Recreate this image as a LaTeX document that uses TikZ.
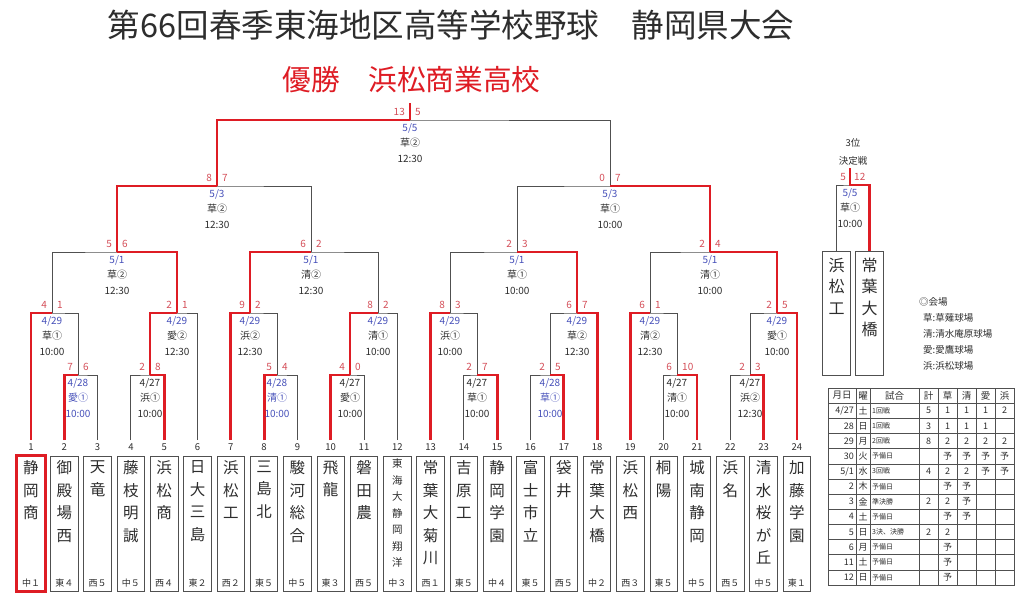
\documentclass[tikz,border=0pt]{standalone}
\usepackage{fontspec}
\setmainfont{Noto Sans CJK JP}
\usetikzlibrary{positioning,calc}
\definecolor{winred}{RGB}{222,28,36}
\definecolor{scorered}{RGB}{212,78,88}
\definecolor{dateblue}{RGB}{70,80,185}
\definecolor{linegrey}{RGB}{80,80,80}
\definecolor{textgrey}{RGB}{45,45,45}

\tikzset{
  lose/.style={draw=linegrey, line width=0.9pt},
  win/.style={draw=winred, line width=2.8pt},
  score/.style={text=scorered, font=\fontsize{10}{12}\selectfont, inner sep=0pt},
  info/.style={text=textgrey, font=\fontsize{10}{15.5}\selectfont, align=center, inner sep=0pt, anchor=north},
  teambox/.style={draw=linegrey, line width=0.9pt, minimum width=27.5pt, minimum height=135pt, inner sep=0pt},
  teamname/.style={text=textgrey, font=\fontsize{15.5}{22.5}\selectfont, align=center, inner sep=0pt, anchor=north},
  teamno/.style={text=textgrey, font=\fontsize{9.5}{11}\selectfont, inner sep=0pt},
  area/.style={text=textgrey, font=\fontsize{9}{11}\selectfont, inner sep=0pt, anchor=south},
  cell/.style={text=textgrey, font=\fontsize{9}{10}\selectfont, inner sep=0pt},
  legendtext/.style={text=textgrey, font=\fontsize{9.5}{11}\selectfont, inner sep=0pt, minimum height=15.6pt, anchor=west}
}

% games: name/left/right/winner/score left/score right/date/venue/time/date colour/colour
\def\bouts{%
a1/t2/t3/t2/7/6/{4/28}/愛①/10:00/dateblue/dateblue,%
a2/t4/t5/t5/2/8/{4/27}/浜①/10:00/textgrey/textgrey,%
a3/t8/t9/t8/5/4/{4/28}/清①/10:00/dateblue/dateblue,%
a4/t10/t11/t10/4/0/{4/27}/愛①/10:00/textgrey/textgrey,%
a5/t14/t15/t15/2/7/{4/27}/草①/10:00/textgrey/textgrey,%
a6/t16/t17/t17/2/5/{4/28}/草①/10:00/dateblue/dateblue,%
a7/t20/t21/t21/6/10/{4/27}/清①/10:00/textgrey/textgrey,%
a8/t22/t23/t23/2/3/{4/27}/浜②/12:30/textgrey/textgrey,%
b1/t1/a1/t1/4/1/{4/29}/草①/10:00/dateblue/textgrey,%
b2/a2/t6/a2/2/1/{4/29}/愛②/12:30/dateblue/textgrey,%
b3/t7/a3/t7/9/2/{4/29}/浜②/12:30/dateblue/textgrey,%
b4/a4/t12/a4/8/2/{4/29}/清①/10:00/dateblue/textgrey,%
b5/t13/a5/t13/8/3/{4/29}/浜①/10:00/dateblue/textgrey,%
b6/a6/t18/t18/6/7/{4/29}/草②/12:30/dateblue/textgrey,%
b7/t19/a7/t19/6/1/{4/29}/清②/12:30/dateblue/textgrey,%
b8/a8/t24/t24/2/5/{4/29}/愛①/10:00/dateblue/textgrey,%
c1/b1/b2/b2/5/6/{5/1}/草②/12:30/dateblue/textgrey,%
c2/b3/b4/b3/6/2/{5/1}/清②/12:30/dateblue/textgrey,%
c3/b5/b6/b6/2/3/{5/1}/草①/10:00/dateblue/textgrey,%
c4/b7/b8/b8/2/4/{5/1}/清①/10:00/dateblue/textgrey,%
d1/c1/c2/c1/8/7/{5/3}/草②/12:30/dateblue/textgrey,%
d2/c3/c4/c4/0/7/{5/3}/草①/10:00/dateblue/textgrey,%
fin/d1/d2/d1/13/5/{5/5}/草②/12:30/dateblue/textgrey}

\begin{document}
\begin{tikzpicture}[x=1pt, y=-1pt]
\useasboundingbox (0,0) rectangle (1024,604);

% headings
\node[text=textgrey, font=\fontsize{32.5}{38}\selectfont] (title) at (451,25) {第66回春季東海地区高等学校野球　静岡県大会};
\node[text=winred, font=\fontsize{28.7}{34}\selectfont] (champion) at (411.5,80) {優勝　浜松商業高校};

% teams
\foreach \i/\ar in {1/中１,2/東４,3/西５,4/中５,5/西４,6/東２,7/西２,8/東５,9/中５,10/東３,11/西５,12/中３,13/西１,14/東５,15/中４,16/東５,17/西５,18/中２,19/西３,20/東５,21/中５,22/西５,23/中５,24/東１} {
  \coordinate (t\i) at ({31+(\i-1)*33.3},440);
  \node[teamno] (n\i) at ({31+(\i-1)*33.3},447) {\i};
  \node[teambox] (box\i) at ({31+(\i-1)*33.3},523.5) {};
  \node[area] (area\i) at ([yshift=4pt]box\i.south) {\ar};
}
\foreach \i/\nm in {1/{静\\岡\\商},2/{御\\殿\\場\\西},3/{天\\竜},4/{藤\\枝\\明\\誠},5/{浜\\松\\商},6/{日\\大\\三\\島},7/{浜\\松\\工},8/{三\\島\\北},9/{駿\\河\\総\\合},10/{飛\\龍},11/{磐\\田\\農},13/{常\\葉\\大\\菊\\川},14/{吉\\原\\工},15/{静\\岡\\学\\園},16/{富\\士\\市\\立},17/{袋\\井},18/{常\\葉\\大\\橋},19/{浜\\松\\西},20/{桐\\陽},21/{城\\南\\静\\岡},22/{浜\\名},23/{清\\水\\桜\\が\\丘},24/{加\\藤\\学\\園}}
  \node[teamname] (name\i) at ([yshift=-5pt]box\i.north) {\nm};
\node[teamname, font=\fontsize{10.5}{16.5}\selectfont] (name12) at ([yshift=-3pt]box12.north) {東\\海\\大\\静\\岡\\翔\\洋};
\draw[win] (box1.south west) rectangle (box1.north east);

% game points
\foreach \gg/\gx in {a1/78,a2/150,a3/277,a4/350,a5/477,a6/550,a7/677,a8/750}
  \coordinate (\gg) at (\gx,375);
\foreach \gg/\gx in {b1/52,b2/177,b3/250,b4/378,b5/450,b6/577,b7/650,b8/777}
  \coordinate (\gg) at (\gx,313);
\foreach \gg/\gx in {c1/117,c2/311,c3/517,c4/710}
  \coordinate (\gg) at (\gx,252);
\coordinate (d1) at (217,186);
\coordinate (d2) at (610,186);
\coordinate (fin) at (410,120);
\coordinate (champ) at (410,103);

% bracket
\foreach \gg/\lt/\rt/\wn/\sa/\sb/\dt/\vn/\tm/\dc/\oc in \bouts
  \draw[lose] (\lt) |- (\gg) -| (\rt);
\foreach \gg/\lt/\rt/\wn/\sa/\sb/\dt/\vn/\tm/\dc/\oc in \bouts {
  \draw[win] (\wn) |- (\gg);
  \node[score, anchor=east] (\gg-l) at ([xshift=-5pt,yshift=8pt]\gg) {\sa};
  \node[score, anchor=west] (\gg-r) at ([xshift=5pt,yshift=8pt]\gg) {\sb};
  \node[info] (\gg-info) at ([yshift=-3pt]\gg) {\textcolor{\dc}{\dt}\\\textcolor{\oc}{\vn}\\\textcolor{\oc}{\tm}};
}
\draw[win] (fin) -- (champ);

% third place
\node[teambox, minimum height=124pt] (p1) at (836.5,313) {};
\node[teambox, minimum height=124pt] (p2) at (869.5,313) {};
\node[teamname, font=\fontsize{16}{21.5}\selectfont] (pname1) at ([yshift=-7pt]p1.north) {浜\\松\\工};
\node[teamname, font=\fontsize{16}{21.5}\selectfont] (pname2) at ([yshift=-7pt]p2.north) {常\\葉\\大\\橋};
\coordinate (g3) at (850,185);
\coordinate (third) at (850,168);
\draw[lose] (p1.north) |- (g3) -| (p2.north);
\draw[win] (p2.north) |- (g3) -- (third);
\node[cell, font=\fontsize{9.5}{11}\selectfont] (rank) at (853,143) {3位};
\node[cell, font=\fontsize{9.5}{11}\selectfont] (rankgame) at (853,161) {決定戦};
\node[score, anchor=east] (g3-l) at ([xshift=-4pt,yshift=8pt]g3) {5};
\node[score, anchor=west] (g3-r) at ([xshift=4pt,yshift=8pt]g3) {12};
\node[info] (g3-info) at ([yshift=-3pt]g3) {\textcolor{dateblue}{5/5}\\草①\\10:00};

% venues
\node[legendtext] (venue) at (919,302) {◎会場};
\node[legendtext] (v1) at (923,317.6) {草:草薙球場};
\node[legendtext, below=0pt of v1.south west, anchor=north west] (v2) {清:清水庵原球場};
\node[legendtext, below=0pt of v2.south west, anchor=north west] (v3) {愛:愛鷹球場};
\node[legendtext, below=0pt of v3.south west, anchor=north west] (v4) {浜:浜松球場};

% schedule table
\draw[draw=linegrey, line width=0.8pt] (828,388) rectangle (1014,585);
\foreach \xx in {856,870,919,938,957,976,995}
  \draw[draw=linegrey, line width=0.5pt] (\xx,388) -- (\xx,585);
\foreach \k in {1,...,12}
  \draw[draw=linegrey, line width=0.5pt] (828,{388+\k*15.15}) -- (1014,{388+\k*15.15});
\foreach \hx/\hd [count=\cn] in {842/月日,863/曜,894.5/試合,928.5/計,947.5/草,966.5/清,985.5/愛,1004.5/浜}
  \node[cell, font=\fontsize{9.5}{11}\selectfont] (head\cn) at (\hx,395.6) {\hd};
\foreach \k/\md/\wk/\gm/\tot/\ku/\sh/\ai/\hm in {1/{4/27}/土/1回戦/5/1/1/1/2,2/28/日/1回戦/3/1/1/1/,3/29/月/2回戦/8/2/2/2/2,4/30/火/予備日//予/予/予/予,5/{5/1}/水/3回戦/4/2/2/予/予,6/2/木/予備日//予/予//,7/3/金/準決勝/2/2/予//,8/4/土/予備日//予/予//,9/5/日/3決、決勝/2/2///,10/6/月/予備日//予///,11/11/土/予備日//予///,12/12/日/予備日//予///} {
  \node[cell, anchor=east] (md\k) at (854,{388+(\k+0.5)*15.15}) {\md};
  \node[cell] (wk\k) at (863,{388+(\k+0.5)*15.15}) {\wk};
  \node[cell, anchor=west, font=\fontsize{7}{8}\selectfont] (gm\k) at (872,{388+(\k+0.5)*15.15}) {\gm};
  \node[cell] (tot\k) at (928.5,{388+(\k+0.5)*15.15}) {\tot};
  \node[cell] (ku\k) at (947.5,{388+(\k+0.5)*15.15}) {\ku};
  \node[cell] (sh\k) at (966.5,{388+(\k+0.5)*15.15}) {\sh};
  \node[cell] (ai\k) at (985.5,{388+(\k+0.5)*15.15}) {\ai};
  \node[cell] (hm\k) at (1004.5,{388+(\k+0.5)*15.15}) {\hm};
}
\end{tikzpicture}
\end{document}
